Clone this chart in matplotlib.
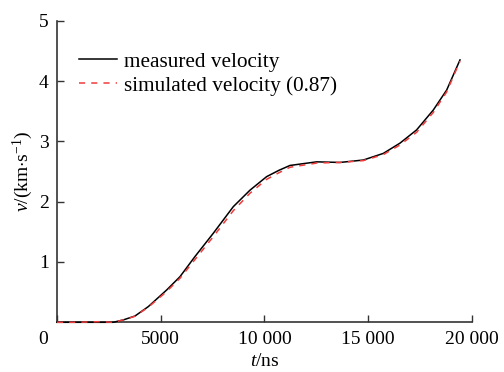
import numpy as np
import matplotlib
matplotlib.use("Agg")
import matplotlib.pyplot as plt
import matplotlib.transforms as mtransforms

plt.rcParams['font.family'] = ['Liberation Serif', 'DejaVu Serif']
plt.rcParams['mathtext.fontset'] = 'custom'
plt.rcParams['mathtext.rm'] = 'Liberation Serif'
plt.rcParams['mathtext.it'] = 'Liberation Serif:italic'

# measured velocity (t in ns, v in km/s)
t_meas = [0, 1000, 2000, 2714, 3200, 3759, 4402, 5285, 5928, 6651, 7534, 8498,
          9301, 10105, 10700, 11229, 12515, 13639, 14763, 15727, 16530, 17333,
          18137, 18780, 19422]
v_meas = [0.0, 0.0, 0.0, 0.0, 0.04, 0.104, 0.26, 0.535, 0.756, 1.09, 1.476, 1.917,
          2.19, 2.415, 2.52, 2.6, 2.66, 2.65, 2.69, 2.80, 2.97, 3.19,
          3.52, 3.85, 4.35]

# simulated velocity (0.87)
t_sim = [0, 1000, 2000, 2714, 3200, 3759, 4402, 5285, 5928, 6651, 7534, 8498,
         9301, 10105, 10700, 11229, 12515, 13639, 14763, 15727, 16530, 17333,
         18137, 18780, 19422]
v_sim = [0.0, 0.0, 0.01, 0.0, 0.04, 0.10, 0.25, 0.51, 0.73, 1.04, 1.42, 1.85,
         2.14, 2.37, 2.48, 2.57, 2.64, 2.65, 2.68, 2.78, 2.94, 3.15,
         3.48, 3.82, 4.33]

xticks = [0, 5000, 10000, 15000, 20000]
xlabels = ['0', '5000', '10 000', '15 000', '20 000']
yticks = [1, 2, 3, 4, 5]

fig = plt.figure(figsize=(5.04, 3.72), dpi=100)
ax = fig.add_axes([0.113, 0.1336, 0.8235, 0.8108])

ax.plot(t_meas, v_meas, color='black', lw=1.1, label='measured velocity',
        clip_on=False, zorder=3)
ax.plot(t_sim, v_sim, color='#f03c3c', lw=1.1, ls=(0, (4, 4)),
        label='simulated velocity (0.87)', clip_on=False, zorder=4)

ax.set_xlim(0, 20000)
ax.set_ylim(0, 5)
ax.set_xticks(xticks)
ax.set_xticklabels(xlabels)
ax.set_yticks(yticks)
for s in ['top', 'right']:
    ax.spines[s].set_visible(False)
for s in ['left', 'bottom']:
    ax.spines[s].set_color('#333333')
    ax.spines[s].set_linewidth(1.2)
    ax.spines[s].set_zorder(2)
ax.tick_params(direction='in', length=5, width=1.0, color='#333333',
               labelsize=14, pad=6)

# shift origin label to the left
lab0 = ax.get_xticklabels()[0]
lab0.set_transform(lab0.get_transform() +
                   mtransforms.ScaledTranslation(-14 / 100, 0, fig.dpi_scale_trans))

ax.set_xlabel('$t$/ns', fontsize=14, labelpad=4)
ax.set_ylabel('$v$/(km$\\cdot$s$^{-1}$)', fontsize=14, labelpad=3)

ax.legend(loc='upper left', frameon=False, fontsize=15.3, handlelength=1.75,
          handletextpad=0.35, labelspacing=0.2, bbox_to_anchor=(0.008, 0.96))

fig.savefig('out.png', dpi=100)
